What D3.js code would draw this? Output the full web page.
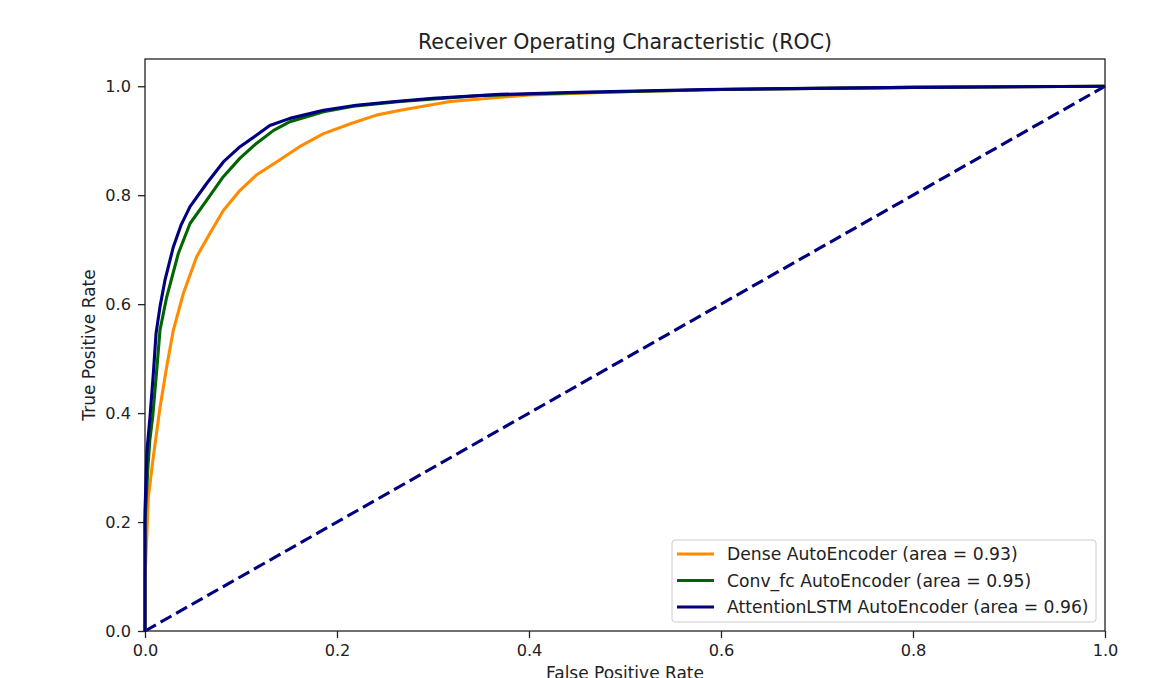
<!DOCTYPE html>
<html>
<head>
<meta charset="utf-8">
<script src="https://cdn.jsdelivr.net/npm/d3@7"></script>
<style>
  body { margin: 0; background: #fff; }
  text { font-family: "DejaVu Sans", sans-serif; fill: #222; }
</style>
</head>
<body>
<div id="chart"></div>
<script>
// ROC points
const denseFpr = [0, 0, 0.002, 0.0035, 0.0087, 0.0156, 0.0226, 0.0295, 0.04, 0.0538, 0.0677, 0.0816, 0.099, 0.116, 0.137, 0.161, 0.186, 0.214, 0.241, 0.266, 0.318, 0.4, 0.5, 0.6, 0.7, 0.8, 0.9, 1.0];
const denseTpr = [0, 0.095, 0.18, 0.246, 0.32, 0.41, 0.485, 0.552, 0.62, 0.687, 0.73, 0.772, 0.809, 0.837, 0.861, 0.889, 0.913, 0.931, 0.947, 0.956, 0.972, 0.984, 0.99, 0.994, 0.996, 0.998, 0.999, 1.0];

const convFpr = [0, 0, 0.003, 0.005, 0.008, 0.0122, 0.0156, 0.0226, 0.0347, 0.0469, 0.064, 0.0816, 0.099, 0.116, 0.134, 0.151, 0.186, 0.22, 0.266, 0.35, 0.45, 0.6, 0.8, 1.0];
const convTpr = [0, 0.2, 0.3, 0.35, 0.393, 0.479, 0.552, 0.613, 0.693, 0.748, 0.79, 0.834, 0.868, 0.895, 0.919, 0.935, 0.953, 0.964, 0.972, 0.983, 0.988, 0.994, 0.998, 1.0];

const lstmFpr = [0, 0, 0.002, 0.0052, 0.0087, 0.0115, 0.0156, 0.0208, 0.0295, 0.0375, 0.0469, 0.064, 0.0816, 0.099, 0.116, 0.13, 0.151, 0.186, 0.22, 0.255, 0.3, 0.37, 0.45, 0.583, 0.8, 1.0];
const lstmTpr = [0, 0.22, 0.33, 0.393, 0.473, 0.546, 0.595, 0.644, 0.705, 0.745, 0.779, 0.821, 0.861, 0.889, 0.91, 0.928, 0.941, 0.956, 0.965, 0.971, 0.978, 0.985, 0.989, 0.994, 0.998, 1.0];

const seriesNames = ["Dense AutoEncoder (area = 0.93)", "Conv_fc AutoEncoder (area = 0.95)", "AttentionLSTM AutoEncoder (area = 0.96)"];
const seriesColors = ["darkorange", "darkgreen", "navy"];
const tickValues = [0, 0.2, 0.4, 0.6, 0.8, 1.0];

const series = [
  denseFpr.map((f, i) => [f, denseTpr[i]]),
  convFpr.map((f, i) => [f, convTpr[i]]),
  lstmFpr.map((f, i) => [f, lstmTpr[i]])
];

const margin = {top: 59, right: 55, bottom: 47, left: 145},
      width = 1160 - margin.left - margin.right,
      height = 678 - margin.top - margin.bottom;

const svg = d3.select("#chart")
    .append("svg")
    .attr("width", width + margin.left + margin.right)
    .attr("height", height + margin.top + margin.bottom)
    .append("g")
    .attr("transform", `translate(${margin.left},${margin.top})`);

const x = d3.scaleLinear().domain([0, 1]).range([0, width]);
const y = d3.scaleLinear().domain([0, 1.05]).range([height, 0]);

// axes
const xAxis = svg.append("g")
    .attr("transform", `translate(0,${height})`)
    .call(d3.axisBottom(x).tickValues(tickValues).tickFormat(d3.format(".1f")).tickSize(7).tickPadding(6));
const yAxis = svg.append("g")
    .call(d3.axisLeft(y).tickValues(tickValues).tickFormat(d3.format(".1f")).tickSize(7).tickPadding(7));
[xAxis, yAxis].forEach(a => {
  a.selectAll("text").style("font-size", "16.2px").attr("fill", "#222");
  a.selectAll("line").attr("stroke", "#222").attr("stroke-width", 1.3);
  a.select(".domain").remove();
});

// frame
svg.append("rect")
    .attr("width", width)
    .attr("height", height)
    .attr("fill", "none")
    .attr("stroke", "#222")
    .attr("stroke-width", 1.3);

// chance line
const line = d3.line().x(d => x(d[0])).y(d => y(d[1]));
svg.append("path")
    .datum([[0, 0], [1, 1]])
    .attr("d", line)
    .attr("fill", "none")
    .attr("stroke", "navy")
    .attr("stroke-width", 3.1)
    .attr("stroke-dasharray", "12.5,5.4");

series.forEach((s, i) => {
  svg.append("path")
      .datum(s)
      .attr("d", line)
      .attr("fill", "none")
      .attr("stroke", seriesColors[i])
      .attr("stroke-width", 3.1)
      .attr("stroke-linejoin", "round");
});

// labels
svg.append("text")
    .attr("x", width / 2)
    .attr("y", -10)
    .attr("text-anchor", "middle")
    .style("font-size", "20.5px")
    .text("Receiver Operating Characteristic (ROC)");

svg.append("text")
    .attr("x", width / 2)
    .attr("y", height + 47.5)
    .attr("text-anchor", "middle")
    .style("font-size", "17px")
    .text("False Positive Rate");

svg.append("text")
    .attr("transform", `translate(-50.5,${height / 2}) rotate(-90)`)
    .attr("text-anchor", "middle")
    .style("font-size", "17px")
    .text("True Positive Rate");

// legend
const legend = svg.append("g").attr("transform", `translate(${672 - margin.left},${540 - margin.top})`);
legend.append("rect")
    .attr("width", 424)
    .attr("height", 82)
    .attr("rx", 3)
    .attr("fill", "#fff")
    .attr("fill-opacity", 0.8)
    .attr("stroke", "#ccc");
seriesNames.forEach((name, i) => {
  const cy = 14 + i * 26.5;
  legend.append("line")
      .attr("x1", 5).attr("x2", 42)
      .attr("y1", cy).attr("y2", cy)
      .attr("stroke", seriesColors[i])
      .attr("stroke-width", 3.1);
  legend.append("text")
      .attr("x", 55)
      .attr("y", cy + 6)
      .style("font-size", "17.2px")
      .text(name);
});
</script>
</body>
</html>
